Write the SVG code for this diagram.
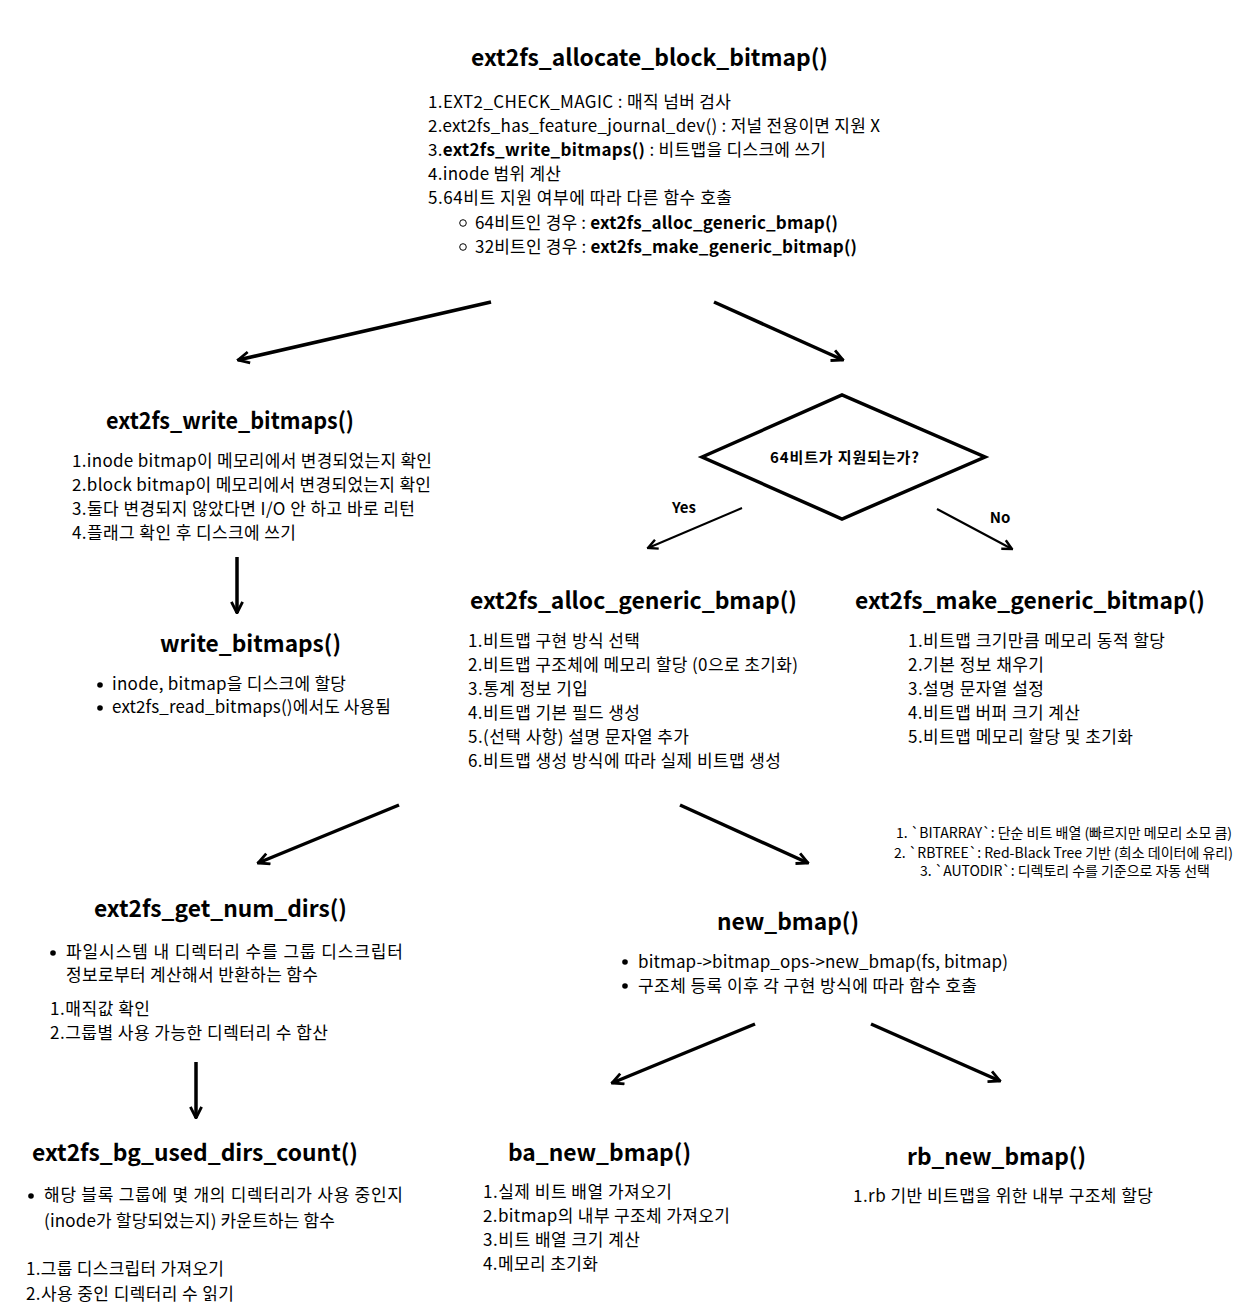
<svg xmlns="http://www.w3.org/2000/svg" width="1246" height="1312" viewBox="0 0 1246 1312">
<defs>
<style>
text{font-family:"Noto Sans CJK KR","Noto Sans",sans-serif;fill:#000}
.t{font-size:23px;font-weight:bold}
.b{font-size:17px}
.s{font-size:14px}
.bd{font-weight:bold}
.lb{font-size:15px;font-weight:bold}
.a{stroke:#000;stroke-width:3.5;fill:none}
.a2{stroke:#000;stroke-width:2;fill:none}
</style>
<marker id="ah" viewBox="0 0 10 10" refX="9" refY="5" markerWidth="4" markerHeight="4" orient="auto" markerUnits="strokeWidth">
<polyline points="1,1 9,5 1,9" fill="none" stroke="#000" stroke-width="2"/>
</marker>
<marker id="ah2" viewBox="0 0 10 10" refX="9" refY="5" markerWidth="6" markerHeight="6" orient="auto" markerUnits="strokeWidth">
<polyline points="1,1 9,5 1,9" fill="none" stroke="#000" stroke-width="2"/>
</marker>
</defs>
<rect width="1246" height="1312" fill="#fff"/>

<g id="connectors">
<line class="a" x1="491" y1="302" x2="238" y2="360" marker-end="url(#ah)"/>
<line class="a" x1="714" y1="302" x2="843" y2="360" marker-end="url(#ah)"/>
<line class="a2" x1="742" y1="508" x2="648" y2="548" marker-end="url(#ah2)"/>
<line class="a2" x1="937" y1="509" x2="1012" y2="549" marker-end="url(#ah2)"/>
<line class="a" x1="237" y1="557" x2="237" y2="613" marker-end="url(#ah)"/>
<line class="a" x1="399" y1="805" x2="258" y2="863" marker-end="url(#ah)"/>
<line class="a" x1="680" y1="805" x2="808" y2="863" marker-end="url(#ah)"/>
<line class="a" x1="196" y1="1062" x2="196" y2="1118" marker-end="url(#ah)"/>
<line class="a" x1="755" y1="1024" x2="612" y2="1083" marker-end="url(#ah)"/>
<line class="a" x1="871" y1="1024" x2="1000" y2="1081" marker-end="url(#ah)"/>
<text class="lb" x="684" y="513" text-anchor="middle">Yes</text>
<text class="lb" x="1000" y="523" text-anchor="middle">No</text>
</g>

<g id="allocate">
<text class="t" x="471" y="66" textLength="357" lengthAdjust="spacingAndGlyphs">ext2fs_allocate_block_bitmap()</text>
<text class="b" x="428" y="108" textLength="303">1.EXT2_CHECK_MAGIC : 매직 넘버 검사</text>
<text class="b" x="428" y="132" textLength="452">2.ext2fs_has_feature_journal_dev() : 저널 전용이면 지원 X</text>
<text class="b" x="428" y="156" textLength="398">3.<tspan class="bd">ext2fs_write_bitmaps()</tspan> : 비트맵을 디스크에 쓰기</text>
<text class="b" x="428" y="180" textLength="133">4.inode 범위 계산</text>
<text class="b" x="428" y="204" textLength="304">5.64비트 지원 여부에 따라 다른 함수 호출</text>
<circle cx="463" cy="223" r="3.3" fill="none" stroke="#000" stroke-width="1"/>
<text class="b" x="475" y="229" textLength="363">64비트인 경우 : <tspan class="bd">ext2fs_alloc_generic_bmap()</tspan></text>
<circle cx="463" cy="247" r="3.3" fill="none" stroke="#000" stroke-width="1"/>
<text class="b" x="475" y="253" textLength="382">32비트인 경우 : <tspan class="bd">ext2fs_make_generic_bitmap()</tspan></text>
</g>

<g id="decision">
<polygon points="702,457 842,395 985,457 842,519" fill="none" stroke="#000" stroke-width="3.5"/>
<text class="lb" x="770" y="463" textLength="149" font-size="16">64비트가 지원되는가?</text>
</g>

<g id="write_bitmaps_ext">
<text class="t" x="106" y="429" textLength="248" lengthAdjust="spacingAndGlyphs">ext2fs_write_bitmaps()</text>
<text class="b" x="72" y="467" textLength="360">1.inode bitmap이 메모리에서 변경되었는지 확인</text>
<text class="b" x="72" y="491" textLength="359">2.block bitmap이 메모리에서 변경되었는지 확인</text>
<text class="b" x="72" y="515" textLength="343">3.둘다 변경되지 않았다면 I/O 안 하고 바로 리턴</text>
<text class="b" x="72" y="539" textLength="224">4.플래그 확인 후 디스크에 쓰기</text>
</g>

<g id="write_bitmaps">
<text class="t" x="160" y="652" textLength="181" lengthAdjust="spacingAndGlyphs">write_bitmaps()</text>
<circle cx="100" cy="685" r="2.8"/>
<text class="b" x="112" y="690" textLength="234">inode, bitmap을 디스크에 할당</text>
<circle cx="100" cy="708" r="2.8"/>
<text class="b" x="112" y="713" textLength="279">ext2fs_read_bitmaps()에서도 사용됨</text>
</g>

<g id="alloc_generic">
<text class="t" x="470" y="609" textLength="327" lengthAdjust="spacingAndGlyphs">ext2fs_alloc_generic_bmap()</text>
<text class="b" x="468" y="647" textLength="172">1.비트맵 구현 방식 선택</text>
<text class="b" x="468" y="671" textLength="330">2.비트맵 구조체에 메모리 할당 (0으로 초기화)</text>
<text class="b" x="468" y="695" textLength="120">3.통계 정보 기입</text>
<text class="b" x="468" y="719" textLength="172">4.비트맵 기본 필드 생성</text>
<text class="b" x="468" y="743" textLength="221">5.(선택 사항) 설명 문자열 추가</text>
<text class="b" x="468" y="767" textLength="313">6.비트맵 생성 방식에 따라 실제 비트맵 생성</text>
</g>

<g id="make_generic">
<text class="t" x="855" y="609" textLength="350" lengthAdjust="spacingAndGlyphs">ext2fs_make_generic_bitmap()</text>
<text class="b" x="908" y="647" textLength="257">1.비트맵 크기만큼 메모리 동적 할당</text>
<text class="b" x="908" y="671" textLength="136">2.기본 정보 채우기</text>
<text class="b" x="908" y="695" textLength="136">3.설명 문자열 설정</text>
<text class="b" x="908" y="719" textLength="172">4.비트맵 버퍼 크기 계산</text>
<text class="b" x="908" y="743" textLength="225">5.비트맵 메모리 할당 및 초기화</text>
</g>

<g id="note">
<text class="s" x="896" y="838" textLength="336">1. `BITARRAY`: 단순 비트 배열 (빠르지만 메모리 소모 큼)</text>
<text class="s" x="894" y="858" textLength="339">2. `RBTREE`: Red-Black Tree 기반 (희소 데이터에 유리)</text>
<text class="s" x="920" y="876" textLength="290">3. `AUTODIR`: 디렉토리 수를 기준으로 자동 선택</text>
</g>

<g id="get_num_dirs">
<text class="t" x="94" y="917" textLength="253" lengthAdjust="spacingAndGlyphs">ext2fs_get_num_dirs()</text>
<circle cx="53" cy="953" r="2.8"/>
<text class="b" x="66" y="958" textLength="337">파일시스템 내 디렉터리 수를 그룹 디스크립터</text>
<text class="b" x="66" y="981" textLength="252">정보로부터 계산해서 반환하는 함수</text>
<text class="b" x="50" y="1015" textLength="100">1.매직값 확인</text>
<text class="b" x="50" y="1039" textLength="278">2.그룹별 사용 가능한 디렉터리 수 합산</text>
</g>

<g id="new_bmap">
<text class="t" x="717" y="930" textLength="142" lengthAdjust="spacingAndGlyphs">new_bmap()</text>
<circle cx="625" cy="962" r="2.8"/>
<text class="b" x="638" y="968" textLength="370">bitmap-&gt;bitmap_ops-&gt;new_bmap(fs, bitmap)</text>
<circle cx="625" cy="986" r="2.8"/>
<text class="b" x="638" y="992" textLength="339">구조체 등록 이후 각 구현 방식에 따라 함수 호출</text>
</g>

<g id="bg_used_dirs">
<text class="t" x="32" y="1161" textLength="326" lengthAdjust="spacingAndGlyphs">ext2fs_bg_used_dirs_count()</text>
<circle cx="31" cy="1196" r="2.8"/>
<text class="b" x="44" y="1201" textLength="359">해당 블록 그룹에 몇 개의 디렉터리가 사용 중인지</text>
<text class="b" x="44" y="1227" textLength="291">(inode가 할당되었는지) 카운트하는 함수</text>
<text class="b" x="26" y="1275" textLength="198">1.그룹 디스크립터 가져오기</text>
<text class="b" x="26" y="1300" textLength="208">2.사용 중인 디렉터리 수 읽기</text>
</g>

<g id="ba_new_bmap">
<text class="t" x="508" y="1161" textLength="183" lengthAdjust="spacingAndGlyphs">ba_new_bmap()</text>
<text class="b" x="483" y="1198" textLength="189">1.실제 비트 배열 가져오기</text>
<text class="b" x="483" y="1222" textLength="247">2.bitmap의 내부 구조체 가져오기</text>
<text class="b" x="483" y="1246" textLength="157">3.비트 배열 크기 계산</text>
<text class="b" x="483" y="1270" textLength="115">4.메모리 초기화</text>
</g>

<g id="rb_new_bmap">
<text class="t" x="907" y="1165" textLength="179" lengthAdjust="spacingAndGlyphs">rb_new_bmap()</text>
<text class="b" x="853" y="1202" textLength="300">1.rb 기반 비트맵을 위한 내부 구조체 할당</text>
</g>
</svg>
